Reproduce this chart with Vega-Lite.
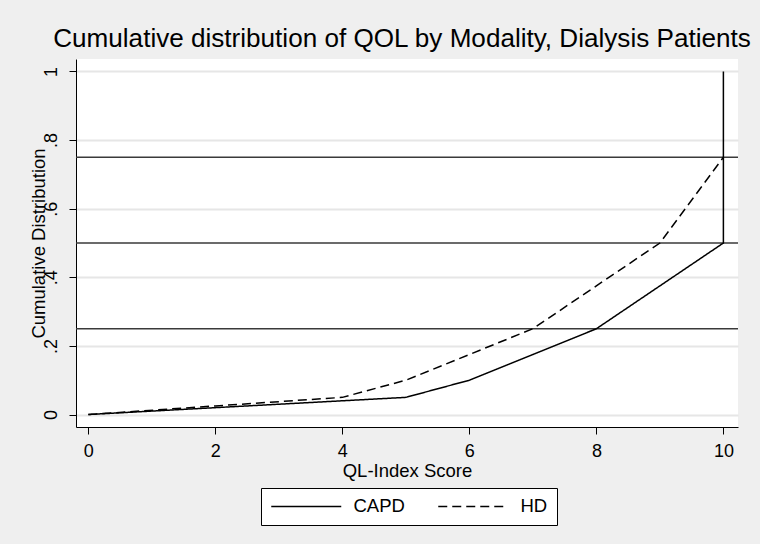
{
  "$schema": "https://vega.github.io/schema/vega-lite/v6.json",
  "width": 662,
  "height": 368,
  "autosize": {"type": "none"},
  "padding": {"left": 76, "top": 59, "right": 22, "bottom": 117},
  "background": "#efefef",
  "config": {
    "view": {"stroke": null, "fill": "white"},
    "font": "Liberation Sans",
    "axis": {"labelFont": "Liberation Sans", "titleFont": "Liberation Sans", "labelColor": "black", "titleColor": "black", "domainColor": "black", "tickColor": "black", "titleFontWeight": "normal"},
    "legend": {"labelFont": "Liberation Sans"}
  },
  "title": {
    "text": "Cumulative distribution of QOL by Modality, Dialysis Patients",
    "fontSize": 26.1,
    "font": "Liberation Sans",
    "fontWeight": "normal",
    "color": "black",
    "anchor": "middle",
    "dx": -5,
    "offset": 7
  },
  "datasets": {
    "cdf": [
      {"group": "CAPD", "i": 1, "score": 0, "cdf": 0},
      {"group": "CAPD", "i": 2, "score": 2, "cdf": 0.02},
      {"group": "CAPD", "i": 3, "score": 4, "cdf": 0.04},
      {"group": "CAPD", "i": 4, "score": 5, "cdf": 0.05},
      {"group": "CAPD", "i": 5, "score": 6, "cdf": 0.1},
      {"group": "CAPD", "i": 6, "score": 7, "cdf": 0.175},
      {"group": "CAPD", "i": 7, "score": 8, "cdf": 0.25},
      {"group": "CAPD", "i": 8, "score": 9, "cdf": 0.375},
      {"group": "CAPD", "i": 9, "score": 10, "cdf": 0.5},
      {"group": "CAPD", "i": 10, "score": 10, "cdf": 1},
      {"group": "HD", "i": 1, "score": 0, "cdf": 0},
      {"group": "HD", "i": 2, "score": 2, "cdf": 0.025},
      {"group": "HD", "i": 3, "score": 4, "cdf": 0.05},
      {"group": "HD", "i": 4, "score": 5, "cdf": 0.1},
      {"group": "HD", "i": 5, "score": 6, "cdf": 0.175},
      {"group": "HD", "i": 6, "score": 7, "cdf": 0.25},
      {"group": "HD", "i": 7, "score": 8, "cdf": 0.375},
      {"group": "HD", "i": 8, "score": 9, "cdf": 0.5},
      {"group": "HD", "i": 9, "score": 10, "cdf": 0.75}
    ],
    "refs": [
      {"level": 0.25},
      {"level": 0.5},
      {"level": 0.75}
    ]
  },
  "layer": [
    {
      "data": {"name": "refs"},
      "mark": {"type": "rule", "color": "#3a3a3a", "strokeWidth": 1.5},
      "encoding": {
        "y": {
          "field": "level", "type": "quantitative",
          "scale": {"domain": [-0.0364, 1.0364], "nice": false, "zero": false},
          "axis": {
            "title": "Cumulative Distribution",
            "titleFontSize": 18.5,
            "titlePadding": -6,
            "values": [0, 0.2, 0.4, 0.6, 0.8, 1],
            "labelExpr": "datum.value == 0 ? '0' : datum.value == 1 ? '1' : replace(format(datum.value, '.1f'), '0.', '.')",
            "labelAngle": -90,
            "labelAlign": "center",
            "labelBaseline": "bottom",
            "labelFontSize": 18,
            "labelPadding": 9,
            "tickSize": 7,
            "grid": true,
            "gridColor": "#e6e6e6",
            "gridWidth": 2,
            "domainWidth": 1,
            "tickWidth": 1
          }
        }
      }
    },
    {
      "data": {"name": "cdf"},
      "mark": {"type": "line", "color": "black", "strokeWidth": 1.5},
      "encoding": {
        "x": {
          "field": "score", "type": "quantitative",
          "scale": {"domain": [-0.194, 10.23], "nice": false, "zero": false},
          "axis": {
            "title": "QL-Index Score",
            "titleFontSize": 18.5,
            "titlePadding": 1,
            "values": [0, 2, 4, 6, 8, 10],
            "labelFontSize": 18,
            "labelPadding": 8,
            "tickSize": 7,
            "grid": false,
            "domainWidth": 1,
            "tickWidth": 1
          }
        },
        "y": {"field": "cdf", "type": "quantitative"},
        "order": {"field": "i", "type": "quantitative"},
        "strokeDash": {
          "field": "group", "type": "nominal",
          "scale": {"domain": ["CAPD", "HD"], "range": [[1, 0], [9, 5]]},
          "legend": {
            "title": null,
            "orient": "none",
            "legendX": 185,
            "legendY": 429,
            "direction": "horizontal",
            "columns": 2,
            "fillColor": "white",
            "strokeColor": "black",
            "padding": 9,
            "symbolType": "M-1,0H7.75",
            "symbolSize": 256,
            "symbolStrokeWidth": 1.5,
            "symbolStrokeColor": "black",
            "labelOffset": 65,
            "labelFontSize": 18.5,
            "labelColor": "black",
            "columnPadding": 30
          }
        }
      }
    }
  ]
}
